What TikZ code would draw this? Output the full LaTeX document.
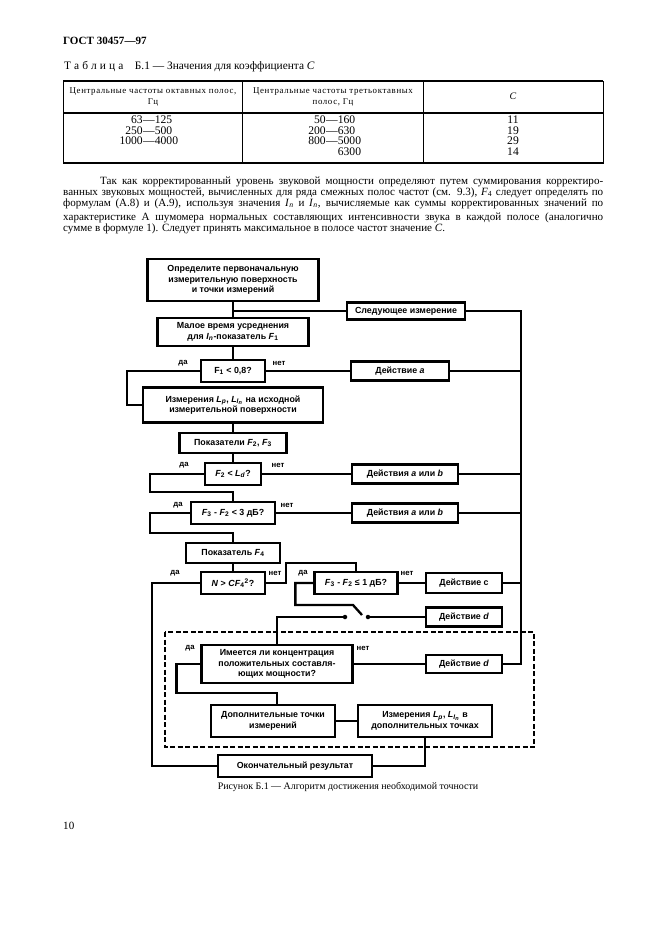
\documentclass[tikz,border=0pt]{standalone}
\usepackage{fontspec}
\setmainfont{Liberation Serif}
\newfontfamily\chartfont{Liberation Sans}
\newfontfamily\headfont[LetterSpace=7]{Liberation Serif}
\newfontfamily\spacedfont[LetterSpace=28]{Liberation Serif}
\usetikzlibrary{calc}
\newlength{\pxl}
\setlength{\pxl}{0.3177mm}
\newcommand{\vsub}[2]{\textit{#1}\textsubscript{#2}}

\begin{document}
\begin{tikzpicture}[x=\pxl,y=-\pxl,
  blk/.style n args={2}{draw,line width=2.1pt,minimum width=#1\pxl,
    minimum height=#2\pxl,inner sep=0pt,align=center,
    font=\chartfont\bfseries\fontsize{8}{9.5}\selectfont},
  wire/.style={line width=2.1pt},
  yesno/.style={font=\chartfont\bfseries\fontsize{7}{8}\selectfont,inner sep=0pt},
  dot/.style={circle,fill,inner sep=0pt,minimum size=4.5\pxl},
  body/.style={font=\fontsize{10}{10}\selectfont,inner sep=0pt,anchor=base west},
  tab/.style={font=\fontsize{10.5}{10}\selectfont,inner sep=0pt}]
\fill[white] (0,0) rectangle (661,936);
\useasboundingbox (0,0) rectangle (661,936);
% page head
\node[body,font=\bfseries\fontsize{10}{10}\selectfont] (gost) at (63,45) {ГОСТ 30457—97};
\node[body,font=\fontsize{10.3}{10}\selectfont] (ttl) at (64,70) {{\spacedfont Таблица}\quad Б.1 — Значения для коэффициента \textit{C}};
% table
\draw[line width=0.6pt] (63,81) rectangle (603,163);
\draw[line width=1.3pt] (63,81) -- (603,81) (63,113) -- (603,113) (63,163) -- (603,163);
\draw[line width=0.6pt] (242,81) -- (242,163) (423,81) -- (423,163);
\node[tab,align=center,font=\headfont\fontsize{8}{10.5}\selectfont] (h1) at (153,97) {Центральные частоты октавных полос,\\Гц};
\node[tab,align=center,font=\headfont\fontsize{8}{10.5}\selectfont] (h2) at (333,97) {Центральные частоты третьоктавных\\полос, Гц};
\node[tab,font=\fontsize{9}{10}\selectfont] (h3) at (513,96) {\textit{C}};
\foreach \a/\b/\y [count=\i] in {63/125/124,250/500/134.5,1000/4000/145}{
  \node[tab,anchor=base east] (oa\i) at (143,\y) {\a};
  \node[tab,anchor=base west] (ob\i) at (143,\y) {—\b};
}
\foreach \a/\b/\y [count=\i] in {50/160/124,200/630/134.5,800/5000/145}{
  \node[tab,anchor=base east] (ta\i) at (326,\y) {\a};
  \node[tab,anchor=base west] (tb\i) at (326,\y) {—\b};
}
\node[tab,anchor=base east] (tc4) at ($(tb3.base east)+(0,10.5)$) {6300};
\foreach \c/\y [count=\i] in {11/124,19/134.5,29/145,14/155.5}
  \node[tab,anchor=base] (cc\i) at (513,\y) {\c};
% paragraph
\node[body] (p1) at (100,184) {\makebox[503\pxl][s]{Так как корректированный уровень звуковой мощности определяют путем суммирования корректиро-}};
\node[body] (p2) at (63,195) {\makebox[540\pxl][s]{ванных звуковых мощностей, вычисленных для ряда смежных полос частот (см. 9.3), \vsub{F}{4} следует определять по}};
\node[body] (p3) at (63,206) {\makebox[540\pxl][s]{формулам (А.8) и (А.9), используя значения \vsub{I}{\textit{n}} и \vsub{I}{\textit{n}}, вычисляемые как суммы корректированных значений по}};
\node[body] (p4) at (63,220) {\makebox[540\pxl][s]{характеристике А шумомера нормальных составляющих интенсивности звука в каждой полосе (аналогично}};
\node[body] (p5) at (63,231) {сумме в формуле 1). Следует принять максимальное в полосе частот значение \textit{C}.};
% flowchart boxes
\node[blk={171}{42}] (init) at (233,280) {Определите первоначальную\\измерительную поверхность\\и точки измерений};
\node[blk={118}{17}] (nextm) at (406,311) {Следующее измерение};
\node[blk={151}{28}] (avg) at (233,332) {Малое время усреднения\\для \vsub{I}{\textit{n}}-показатель \vsub{F}{1}};
\node[blk={64}{22}] (q1) at (233,371) {F\textsubscript{1} < 0,8?};
\node[blk={98}{19}] (acta) at (400,371) {Действие \textit{a}};
\node[blk={180}{35}] (meas) at (233,405) {Измерения \vsub{L}{\textit{p}}, \vsub{L}{\textit{I}\textsubscript{\textit{n}}} на исходной\\измерительной поверхности};
\node[blk={107}{20}] (ind23) at (233,443) {Показатели \vsub{F}{2}, \vsub{F}{3}};
\node[blk={56}{22}] (q2) at (233,474) {\vsub{F}{2} < \vsub{L}{\textit{d}}?};
\node[blk={106}{19}] (actab1) at (405,474) {Действия \textit{a} или \textit{b}};
\node[blk={84}{22}] (q3) at (233,513) {\vsub{F}{3} - \vsub{F}{2} < 3 дБ?};
\node[blk={106}{19}] (actab2) at (405,513) {Действия \textit{a} или \textit{b}};
\node[blk={94}{20}] (ind4) at (233,553) {Показатель \vsub{F}{4}};
\node[blk={64}{22}] (q4) at (233,583) {\textit{N} > \textit{CF}\textsubscript{4}\textsuperscript{2}?};
\node[blk={83}{22}] (q5) at (356,583) {\vsub{F}{3} - \vsub{F}{2} ≤ 1 дБ?};
\node[blk={76}{20}] (actc) at (464,583) {Действие c};
\node[blk={76}{19}] (actd1) at (464,617) {Действие \textit{d}};
\node[blk={151}{38}] (q6) at (277,664) {Имеется ли концентрация\\положительных составля-\\ющих мощности?};
\node[blk={76}{18}] (actd2) at (464,664) {Действие \textit{d}};
\node[blk={124}{32}] (extra) at (273,721) {Дополнительные точки\\измерений};
\node[blk={134}{32}] (meas2) at (425,721) {Измерения \vsub{L}{\textit{p}}, \vsub{L}{\textit{I}\textsubscript{\textit{n}}} в\\дополнительных точках};
\node[blk={154}{22}] (final) at (295,766) {Окончательный результат};
% yes / no labels
\node[yesno] (y1) at (183,363) {да};
\node[yesno] (n1) at (279,363) {нет};
\node[yesno] (y2) at (184,465) {да};
\node[yesno] (n2) at (278,465) {нет};
\node[yesno] (y3) at (178,505) {да};
\node[yesno] (n3) at (287,505) {нет};
\node[yesno] (y4) at (175,573) {да};
\node[yesno] (n4) at (275,573) {нет};
\node[yesno] (y5) at (303,573) {да};
\node[yesno] (n5) at (407,573) {нет};
\node[yesno] (y6) at (190,648) {да};
\node[yesno] (n6) at (363,648) {нет};
% right rail
\coordinate (railtop) at (521,311);
\coordinate (railbot) at (521,664);
\draw[wire] (init) -- (avg);
\draw[wire] (init.south |- nextm) -- (nextm);
\draw[wire] (nextm) -- (railtop) -- (railbot) -- (actd2);
\draw[wire] (avg) -- (q1);
\draw[wire] (q1) -- (acta);
\draw[wire] (acta) -- (acta -| railtop);
\draw[wire] (q1.west) -- +(-73,0) |- (meas.west);
\draw[wire] (meas) -- (ind23);
\draw[wire] (ind23) -- (q2);
\draw[wire] (q2) -- (actab1);
\draw[wire] (actab1) -- (actab1 -| railtop);
\coordinate (j2) at (233,492);
\draw[wire] (q2.west) -- +(-54,0) |- (j2) -- (q3);
\draw[wire] (q3) -- (actab2);
\draw[wire] (actab2) -- (actab2 -| railtop);
\coordinate (j3) at (233,533);
\draw[wire] (q3.west) -- +(-40,0) |- (j3) -- (ind4);
\draw[wire] (ind4) -- (q4);
\draw[wire] (q4.west) -- +(-48,0) |- (final.west);
\coordinate (j4) at (286,563);
\draw[wire] (q4.east) -| (j4) -| (q5.north);
\draw[wire] (q5) -- (actc);
\draw[wire] (actc) -- (actc -| railtop);
% switch
\coordinate (swa) at (353,605);
\coordinate (swb) at (362,615);
\draw[wire] (q5.west) -- +(-18,0) |- (swa) -- (swb);
\node[dot] (swl) at (345,617) {};
\node[dot] (swr) at (368,617) {};
\draw[wire] (swr) -- (actd1);
\draw[wire] (swl) -| (q6.north);
\draw[wire] (q6) -- (actd2);
\coordinate (j6) at (277,693);
\draw[wire] (q6.west) -- +(-24,0) |- (j6) -- (j6 |- extra.north);
\draw[wire] (extra) -- (meas2);
\draw[wire] (meas2.south) |- (final.east);
% dashed frame
\draw[line width=1.1pt,dash pattern=on 5\pxl off 2.5\pxl] (165,632) rectangle (534,747);
% caption
\node[tab,font=\fontsize{9}{10}\selectfont] (cap) at (348,787) {Рисунок Б.1 — Алгоритм достижения необходимой точности};
\node[body] (pg) at (63,829) {10};
\end{tikzpicture}
\end{document}
